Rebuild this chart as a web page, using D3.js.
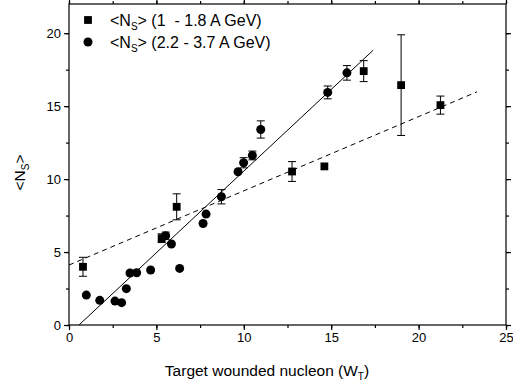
<!DOCTYPE html>
<html><head><meta charset="utf-8">
<script src="https://cdn.jsdelivr.net/npm/d3@7"></script>
<style>body{margin:0;background:#fff}svg{display:block;font-family:"Liberation Sans",Arial,sans-serif}</style>
</head><body><svg id="c" width="513" height="385"></svg>
<script>
// Series 1: <Ns> (1 - 1.8 A GeV) — squares
const sqX   = [0.80, 5.30, 6.16, 12.76, 14.61, 16.86, 19.00, 21.25];
const sqY   = [3.99, 5.95, 8.10, 10.52, 10.87, 17.40, 16.44, 15.07];
const sqErr = [0.65, 0.30, 0.89, 0.68, 0.00, 0.72, 3.45, 0.62];
// Series 2: <Ns> (2.2 - 3.7 A GeV) — circles
const ciX   = [0.99, 1.76, 2.63, 3.01, 3.28, 3.49, 3.87, 4.67, 5.53, 5.86, 6.33, 7.67, 7.84, 8.72, 9.67, 9.99, 10.49, 10.97, 14.80, 15.90];
const ciY   = [2.05, 1.69, 1.64, 1.53, 2.49, 3.56, 3.58, 3.77, 6.12, 5.55, 3.88, 6.96, 7.60, 8.79, 10.50, 11.12, 11.62, 13.40, 15.94, 17.28];
const ciErr = [0, 0, 0, 0, 0, 0, 0, 0, 0.25, 0, 0, 0, 0, 0.49, 0, 0.35, 0.30, 0.59, 0.44, 0.50];
// Fit lines
const solidFit  = {x0: 0.57, x1: 17.4, slope: 1.119, icpt: -0.64};
const dashedFit = {x0: 0.0, x1: 23.34, slope: 0.5086, icpt: 4.11};
const xTicks = [0, 5, 10, 15, 20, 25];
const yTicks = [0, 5, 10, 15, 20];
const legendLabels = ["(1  - 1.8 A GeV)", "(2.2 - 3.7 A GeV)"];

const svg = d3.select("#c");
const L = 69, R = 506, T = 4, B = 325;
const x = d3.scaleLinear().domain([0, 25]).range([L, R]);
const y = d3.scaleLinear().domain([0, 22]).range([B, T]);
const minorX = d3.range(0, 25.01, 2.5), minorY = d3.range(0, 22.01, 2.5);

// frame
svg.append("rect").attr("x", L).attr("y", T).attr("width", R - L).attr("height", B - T)
  .attr("fill", "none").attr("stroke", "#000").attr("stroke-width", 1.2);

function axis(gen, tr, vals, size, labels) {
  const g = svg.append("g").attr("transform", tr)
    .call(gen.tickValues(vals).tickSize(size).tickSizeOuter(0).tickPadding(3)
      .tickFormat(labels ? d3.format("d") : ""));
  g.select(".domain").remove();
  g.selectAll("line").attr("stroke", "#000").attr("stroke-width", 1.2);
  g.selectAll("text").attr("font-size", 13).attr("font-family", "Liberation Sans, Arial, sans-serif").attr("fill", "#000");
  return g;
}
axis(d3.axisBottom(x), `translate(0,${B})`, minorX, 3, false);
axis(d3.axisBottom(x), `translate(0,${B})`, xTicks, 5, true);
axis(d3.axisLeft(y), `translate(${L},0)`, minorY, 3, false);
axis(d3.axisLeft(y), `translate(${L},0)`, yTicks, 5, true);
axis(d3.axisBottom(x), `translate(0,${T})`, minorX, -3, false);
axis(d3.axisBottom(x), `translate(0,${T})`, xTicks, -5, false);
axis(d3.axisLeft(y), `translate(${R},0)`, minorY, -3, false);
axis(d3.axisLeft(y), `translate(${R},0)`, yTicks, -5, false);

// fit lines
function fit(f, dash) {
  svg.append("line").attr("x1", x(f.x0)).attr("y1", y(f.slope * f.x0 + f.icpt))
    .attr("x2", x(f.x1)).attr("y2", y(f.slope * f.x1 + f.icpt))
    .attr("stroke", "#000").attr("stroke-width", 1).attr("stroke-dasharray", dash || null);
}
fit(solidFit);
fit(dashedFit, "5,4");

// error bars
function errs(xs, ys, es) {
  xs.forEach((d, i) => {
    const e = es[i]; if (!e) return;
    const g = svg.append("g").attr("stroke", "#000").attr("stroke-width", 1);
    g.append("line").attr("x1", x(d)).attr("x2", x(d)).attr("y1", y(ys[i] - e)).attr("y2", y(ys[i] + e));
    [ys[i] - e, ys[i] + e].forEach(v => g.append("line").attr("x1", x(d) - 4).attr("x2", x(d) + 4).attr("y1", y(v)).attr("y2", y(v)));
  });
}
errs(sqX, sqY, sqErr);
errs(ciX, ciY, ciErr);

const sym = 7.8;
svg.append("g").selectAll("rect").data(sqX).join("rect")
  .attr("x", (d) => x(d) - sym / 2).attr("y", (d, i) => y(sqY[i]) - sym / 2)
  .attr("width", sym).attr("height", sym).attr("fill", "#000");
svg.append("g").selectAll("circle").data(ciX).join("circle")
  .attr("cx", d => x(d)).attr("cy", (d, i) => y(ciY[i])).attr("r", 4.5).attr("fill", "#000");

// legend
const lg = svg.append("g");
lg.append("rect").attr("x", 88 - sym / 2).attr("y", 20 - sym / 2).attr("width", sym).attr("height", sym);
lg.append("circle").attr("cx", 88).attr("cy", 42).attr("r", 4.5);
[26, 48].forEach((yy, i) => {
  const t = lg.append("text").attr("x", 110).attr("y", yy).attr("font-size", 16).style("white-space", "pre");
  t.append("tspan").text("<N");
  t.append("tspan").attr("font-size", 10).attr("dy", 4).text("S");
  t.append("tspan").attr("dy", -4).text("> " + legendLabels[i]);
});

// axis titles
const xt = svg.append("text").attr("x", 267).attr("y", 376).attr("text-anchor", "middle").attr("font-size", 15.5);
xt.append("tspan").text("Target wounded nucleon (W");
xt.append("tspan").attr("font-size", 10).attr("dy", 4).text("T");
xt.append("tspan").attr("dy", -4).text(")");
const yt = svg.append("text").attr("transform", `translate(25,${(T + B) / 2 + 8}) rotate(-90)`).attr("text-anchor", "middle").attr("font-size", 15.5);
yt.append("tspan").text("<N");
yt.append("tspan").attr("font-size", 10).attr("dy", 4).text("S");
yt.append("tspan").attr("dy", -4).text(">");
</script></body></html>
